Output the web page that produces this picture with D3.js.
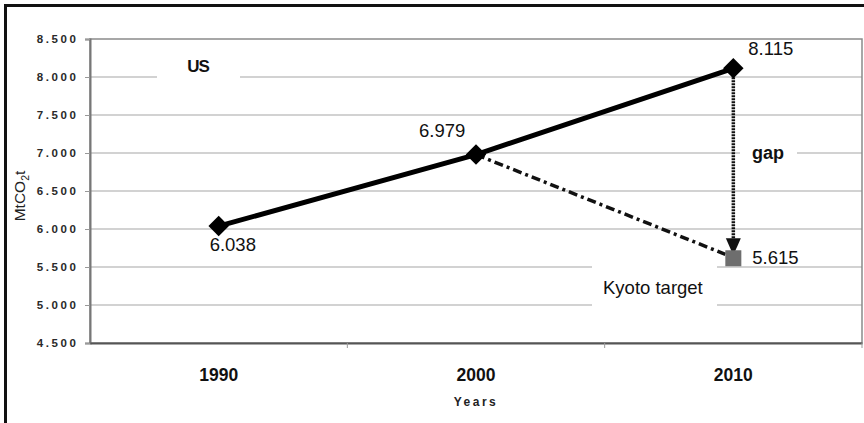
<!DOCTYPE html>
<html>
<head>
<meta charset="utf-8">
<script src="https://cdn.jsdelivr.net/npm/d3@7"></script>
<style>
	body { margin: 0; background: #fff; }
	svg { display: block; font-family: "Liberation Sans", Arial, sans-serif; }
</style>
</head>
<body>
<div id="chart"></div>
<script>

var years = ["1990", "2000", "2010"];
var usValues = [6.038, 6.979, 8.115];
var kyotoYear = "2010";
var kyotoValue = 5.615;
var yTicks = [4.5, 5, 5.5, 6, 6.5, 7, 7.5, 8, 8.5];

var width = 864, height = 423;
var plotLeft = 90, plotRight = 862, plotTop = 39, plotBottom = 343;

var svg = d3.select("#chart").append("svg")
		.attr("width", width)
		.attr("height", height);

// outer frame (cut off at right/bottom like the scan)
svg.append("rect")
	.attr("x", 5.5).attr("y", 5.5)
	.attr("width", 950).attr("height", 600)
	.attr("fill", "none")
	.attr("stroke", "#111")
	.attr("stroke-width", 3);

var x = d3.scaleBand().domain(years).range([plotLeft, plotRight]).padding(0);
var y = d3.scaleLinear().domain([4.5, 8.5]).range([plotBottom, plotTop]);

function fmt(v) { return d3.format(".3f")(v); }

//gridlines
svg.append("g").selectAll("line")
	.data(yTicks.slice(1, -1))
	.enter().append("line")
	.attr("x1", plotLeft).attr("x2", plotRight)
	.attr("y1", function(d) { return y(d); })
	.attr("y2", function(d) { return y(d); })
	.attr("stroke", "#d2d2d2")
	.attr("stroke-width", 2);

// plot border
svg.append("rect")
	.attr("x", plotLeft).attr("y", plotTop)
	.attr("width", plotRight - plotLeft).attr("height", plotBottom - plotTop)
	.attr("fill", "none")
	.attr("stroke", "#8a8a8a")
	.attr("stroke-width", 1.5);

// white boxes behind annotation labels
var boxes = [
	{x: 157, y: 50, w: 83, h: 36},
	{x: 740, y: 133, w: 57, h: 36},
	{x: 592, y: 262, w: 125, h: 50}
];
svg.append("g").selectAll("rect")
	.data(boxes)
	.enter().append("rect")
	.attr("x", function(d) { return d.x; })
	.attr("y", function(d) { return d.y; })
	.attr("width", function(d) { return d.w; })
	.attr("height", function(d) { return d.h; })
	.attr("fill", "#fff");

//axes
var yAxis = svg.append("g")
	.attr("transform", "translate(" + plotLeft + ",0)")
	.call(d3.axisLeft(y).tickValues(yTicks).tickSize(5).tickPadding(9).tickFormat(fmt));
yAxis.select(".domain").attr("stroke", "#777").attr("stroke-width", 2);
yAxis.selectAll(".tick line").attr("stroke", "#999");
yAxis.selectAll("text")
	.attr("font-size", 11.5)
	.attr("font-weight", "bold")
	.attr("letter-spacing", "2.6px")
	.attr("dx", "2.6")
	.attr("fill", "#2a2a2a")
	.style("font-family", "'Liberation Sans', Arial, sans-serif");

var xAxis = svg.append("g")
	.attr("transform", "translate(0," + plotBottom + ")")
	.call(d3.axisBottom(x).tickSize(0).tickPadding(26));
xAxis.select(".domain").attr("stroke", "#555").attr("stroke-width", 2);
xAxis.selectAll("text")
	.attr("font-size", 17.5)
	.attr("font-weight", "bold")
	.attr("fill", "#111")
	.style("font-family", "'Liberation Sans', Arial, sans-serif");

// category boundary ticks
var bounds = years.map(function(d) { return x(d); }).concat([x(years[years.length - 1]) + x.bandwidth()]);
svg.append("g").selectAll("line")
	.data(bounds.slice(1))
	.enter().append("line")
	.attr("x1", function(d) { return d; }).attr("x2", function(d) { return d; })
	.attr("y1", plotBottom).attr("y2", plotBottom + 5)
	.attr("stroke", "#999");

svg.append("text")
	.attr("x", 476).attr("y", 406)
	.attr("text-anchor", "middle")
	.attr("font-size", 12)
	.attr("font-weight", "bold")
	.attr("letter-spacing", "2.5px")
	.attr("fill", "#222")
	.text("Years");

var yl = svg.append("text")
	.attr("transform", "translate(25,196) rotate(-90)")
	.attr("text-anchor", "middle")
	.attr("font-size", 15.5)
	.attr("fill", "#222");
yl.append("tspan").text("MtCO");
yl.append("tspan").attr("font-size", 10.5).attr("dy", 4).text("2");
yl.append("tspan").attr("dy", -4).text("t");

function cx(d) { return x(d) + x.bandwidth() / 2; }

var usPts = years.map(function(d, i) { return {year: d, v: usValues[i]}; });
var last = usPts[usPts.length - 1];
var prev = usPts[usPts.length - 2];

// dash-dot projection to kyoto target
svg.append("line")
	.attr("x1", cx(prev.year)).attr("y1", y(prev.v))
	.attr("x2", cx(kyotoYear) - 8).attr("y2", y(kyotoValue) - 4)
	.attr("stroke", "#111")
	.attr("stroke-width", 3.5)
	.attr("stroke-dasharray", "9,4,3,4");

// gap arrow
var arrowTip = y(kyotoValue) - 3;
svg.append("line")
	.attr("x1", cx(last.year)).attr("y1", y(last.v))
	.attr("x2", cx(last.year)).attr("y2", arrowTip - 15)
	.attr("stroke", "#111")
	.attr("stroke-width", 3.5)
	.attr("stroke-dasharray", "2,1");
svg.append("path")
	.attr("d", "M" + (cx(last.year) - 7.5) + "," + (arrowTip - 17) + "L" + (cx(last.year) + 7.5) + "," + (arrowTip - 17) + "L" + cx(last.year) + "," + arrowTip + "Z")
	.attr("fill", "#111");

// kyoto target marker
svg.append("rect")
	.attr("x", cx(kyotoYear) - 8).attr("y", y(kyotoValue) - 8)
	.attr("width", 16).attr("height", 16)
	.attr("fill", "#6e6e6e");

// US line
var line = d3.line()
	.x(function(d) { return cx(d.year); })
	.y(function(d) { return y(d.v); });

svg.append("path")
	.datum(usPts)
	.attr("d", line)
	.attr("fill", "none")
	.attr("stroke", "#000")
	.attr("stroke-width", 5);

svg.selectAll(".dot")
	.data(usPts)
	.enter().append("path")
	.attr("class", "dot")
	.attr("d", d3.symbol(d3.symbolSquare, 210))
	.attr("transform", function(d) { return "translate(" + cx(d.year) + "," + y(d.v) + ") rotate(45)"; })
	.attr("fill", "#000");

// value labels
var labelPos = [
	{dx: -9, dy: 25},
	{dx: -57, dy: -18},
	{dx: 15, dy: -13}
];
svg.selectAll(".val")
	.data(usPts)
	.enter().append("text")
	.attr("class", "val")
	.attr("x", function(d, i) { return cx(d.year) + labelPos[i].dx; })
	.attr("y", function(d, i) { return y(d.v) + labelPos[i].dy; })
	.attr("font-size", 18.5)
	.attr("fill", "#111")
	.text(function(d) { return fmt(d.v); });

svg.append("text")
	.attr("x", cx(kyotoYear) + 19).attr("y", y(kyotoValue) + 6)
	.attr("font-size", 18.5)
	.attr("fill", "#111")
	.text(fmt(kyotoValue));

svg.append("text")
	.attr("x", 603).attr("y", 294)
	.attr("font-size", 18.5)
	.attr("fill", "#111")
	.text("Kyoto target");

svg.append("text")
	.attr("x", 752).attr("y", 159)
	.attr("font-size", 18)
	.attr("font-weight", "bold")
	.attr("fill", "#111")
	.text("gap");

svg.append("text")
	.attr("x", 198).attr("y", 72)
	.attr("text-anchor", "middle")
	.attr("font-size", 17)
	.attr("font-weight", "bold")
	.attr("letter-spacing", "-1px")
	.attr("fill", "#111")
	.text("US");

</script>
</body>
</html>
